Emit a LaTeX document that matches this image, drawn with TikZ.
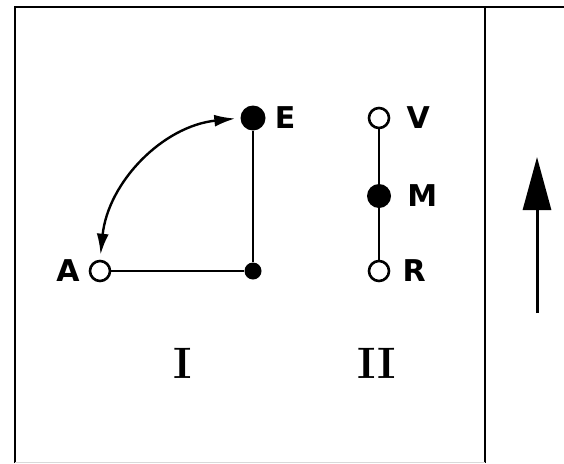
\documentclass[tikz,border=0pt]{standalone}
\usepackage{fontspec}
\newfontfamily\labelfont{DejaVu Sans}
\usepackage{tikz}
\usetikzlibrary{arrows.meta,positioning}

\begin{document}
\begin{tikzpicture}[
	x=1pt, y=-1pt,
	open dot/.style={
		draw,
		circle,
		line width=2.6pt,
		fill=white,
		inner sep=0pt,
		minimum size=20pt
	},
	full dot/.style={
		circle,
		fill=black,
		inner sep=0pt,
		minimum size=#1
	},
	letter/.style={
		font=\labelfont\bfseries\fontsize{30}{34}\selectfont,
		inner sep=2pt
	},
	numeral/.style={
		font=\bfseries\fontsize{44}{48}\selectfont,
		inner sep=0pt
	},
	frame/.style={line width=2.4pt},
	>={Latex[length=21pt,width=12pt]}
	]
	
	\useasboundingbox (0,0) rectangle (564,463);
	
	% frame
	\draw[frame] (15,463) -- (15,7) -- (564,7);
	\draw[frame] (485,7) -- (485,463);
	\draw[black!15, line width=1pt] (15,462) -- (485,462);
	
	% diagram I
	\node[open dot] (A) at (100,271) {};
	\node[full dot=17pt] (corner) at (253,271) {};
	\node[full dot=25pt] (E) at (253,118) {};
	
	\node[letter, left=7pt of A] (labelA) {A};
	\node[letter, right=7pt of E] (labelE) {E};
	
	\draw[line width=2.6pt] (A) -- (corner);
	\draw[line width=2.6pt] (corner) -- (E);
	\draw[<->, line width=2.4pt, shorten <=5pt, shorten >=5pt]
		(A.north) to[out=84, in=186] (E.west);
	
	% diagram II
	\node[open dot] (V) at (379,118) {};
	\node[full dot=24pt] (M) at (379,196) {};
	\node[open dot] (R) at (379,271) {};
	
	\node[letter, right=14pt of V] (labelV) {V};
	\node[letter, right=14pt of M] (labelM) {M};
	\node[letter, right=10pt of R] (labelR) {R};
	
	\draw[line width=2pt] (V) -- (M);
	\draw[line width=2pt] (M) -- (R);
	
	\node[numeral] (one) at (183,363) {I};
	\node[numeral] (two) at (377,363) {II};
	
	% arrow on the right
	\coordinate (tail) at (537,313);
	\coordinate (tip) at (537,157);
	\draw[-{Triangle[length=53pt,width=28pt]}, line width=3pt] (tail) -- (tip);
	
\end{tikzpicture}
\end{document}
